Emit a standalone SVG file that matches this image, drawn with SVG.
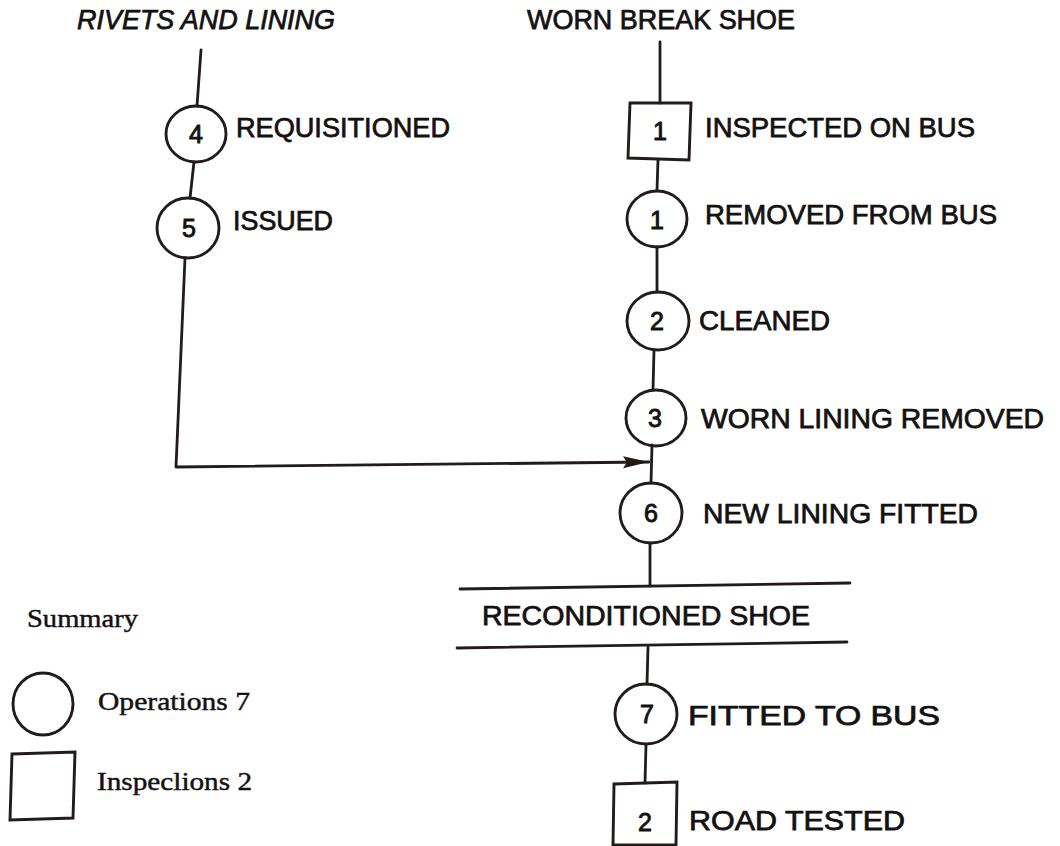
<svg xmlns="http://www.w3.org/2000/svg" width="1060" height="846" viewBox="0 0 1060 846">
<defs>
<style>
.bg{fill:#ffffff}
.ln{fill:none;stroke:#231a1a;stroke-width:2.8;stroke-linecap:round;stroke-linejoin:round}
.sh{fill:none;stroke:#231a1a;stroke-width:2.9}
.lb{font-family:"Liberation Sans",Arial,Helvetica,sans-serif;font-size:27px;fill:#141111;stroke:#141111;stroke-width:0.75}
.num{font-family:"Liberation Sans",Arial,Helvetica,sans-serif;font-size:25px;fill:#141111;stroke:#141111;stroke-width:0.9;text-anchor:middle}
.sr{font-family:"Liberation Serif","Times New Roman",serif;font-size:26px;fill:#141111;stroke:#141111;stroke-width:0.45}
</style>
<marker id="arr" markerUnits="userSpaceOnUse" markerWidth="28" markerHeight="14" refX="26" refY="6" orient="auto">
<path d="M0,0 L26,6 L0,12 L4,6 z" fill="#231a1a"/>
</marker>
</defs>
<rect class="bg" x="0" y="0" width="1060" height="846"/>

<g id="connectors">
<path class="ln" d="M201,50 L197,106"/>
<path class="ln" d="M194,162 L190,198"/>
<path class="ln" d="M185,258 L176,467 L649,462" marker-end="url(#arr)"/>
<path class="ln" d="M660,42 L660,103"/>
<path class="ln" d="M658,160 L657,190"/>
<path class="ln" d="M657,247 L657,292"/>
<path class="ln" d="M654,350 L653,390"/>
<path class="ln" d="M652,445 L651,483"/>
<path class="ln" d="M650,543 L650,586"/>
<path class="ln" d="M648,647 L647,684"/>
<path class="ln" d="M646,745 L645,783"/>
</g>

<g id="title-rivets">
<text class="lb" x="77" y="29" font-style="italic" textLength="258" lengthAdjust="spacingAndGlyphs">RIVETS AND LINING</text>
</g>
<g id="title-shoe">
<text class="lb" x="527" y="29" textLength="268" lengthAdjust="spacingAndGlyphs">WORN BREAK SHOE</text>
</g>

<g id="op4">
<ellipse class="sh" cx="196" cy="134" rx="30" ry="28"/>
<text class="num" x="196" y="143">4</text>
<text class="lb" x="236" y="137" textLength="214" lengthAdjust="spacingAndGlyphs">REQUISITIONED</text>
</g>
<g id="op5">
<ellipse class="sh" cx="188" cy="228" rx="31" ry="30"/>
<text class="num" x="189" y="237">5</text>
<text class="lb" x="233" y="230" textLength="100" lengthAdjust="spacingAndGlyphs">ISSUED</text>
</g>

<g id="insp1">
<path class="sh" d="M630,103 L691,103 L689,160 L628,158 Z"/>
<text class="num" x="660" y="140">1</text>
<text class="lb" x="705" y="137" textLength="270" lengthAdjust="spacingAndGlyphs">INSPECTED ON BUS</text>
</g>
<g id="op1">
<ellipse class="sh" cx="657" cy="219" rx="30" ry="28"/>
<text class="num" x="657" y="229">1</text>
<text class="lb" x="705" y="224" textLength="292" lengthAdjust="spacingAndGlyphs">REMOVED FROM BUS</text>
</g>
<g id="op2">
<ellipse class="sh" cx="658" cy="321" rx="31" ry="29"/>
<text class="num" x="657" y="330">2</text>
<text class="lb" x="699" y="330" textLength="131" lengthAdjust="spacingAndGlyphs">CLEANED</text>
</g>
<g id="op3">
<ellipse class="sh" cx="656" cy="418" rx="30" ry="28"/>
<text class="num" x="655" y="427">3</text>
<text class="lb" x="701" y="428" textLength="343" lengthAdjust="spacingAndGlyphs">WORN LINING REMOVED</text>
</g>
<g id="op6">
<ellipse class="sh" cx="651" cy="513" rx="31" ry="30"/>
<text class="num" x="651" y="522">6</text>
<text class="lb" x="703" y="523" textLength="275" lengthAdjust="spacingAndGlyphs">NEW LINING FITTED</text>
</g>

<g id="reconditioned-shoe">
<path class="ln" d="M460,589 L850,583"/>
<path class="ln" d="M457,648 L847,642"/>
<text class="lb" x="482" y="625" textLength="328" lengthAdjust="spacingAndGlyphs">RECONDITIONED SHOE</text>
</g>

<g id="op7">
<ellipse class="sh" cx="646" cy="714" rx="31" ry="30"/>
<text class="num" x="647" y="723">7</text>
<text class="lb" x="688" y="725" textLength="252" lengthAdjust="spacingAndGlyphs">FITTED TO BUS</text>
</g>
<g id="insp2">
<path class="sh" d="M614,784 L677,782 L676,845 L613,845 Z"/>
<text class="num" x="645" y="831">2</text>
<text class="lb" x="689" y="830" textLength="216" lengthAdjust="spacingAndGlyphs">ROAD TESTED</text>
</g>

<g id="summary">
<text class="sr" x="27" y="627" textLength="111" lengthAdjust="spacingAndGlyphs">Summary</text>
<ellipse class="sh" cx="43" cy="704" rx="30" ry="31"/>
<text class="sr" x="98" y="710" textLength="152" lengthAdjust="spacingAndGlyphs">Operations 7</text>
<path class="sh" d="M12,754 L75,752 L73,818 L10,820 Z"/>
<text class="sr" x="97" y="790" textLength="155" lengthAdjust="spacingAndGlyphs">Inspeclions 2</text>
</g>
</svg>
